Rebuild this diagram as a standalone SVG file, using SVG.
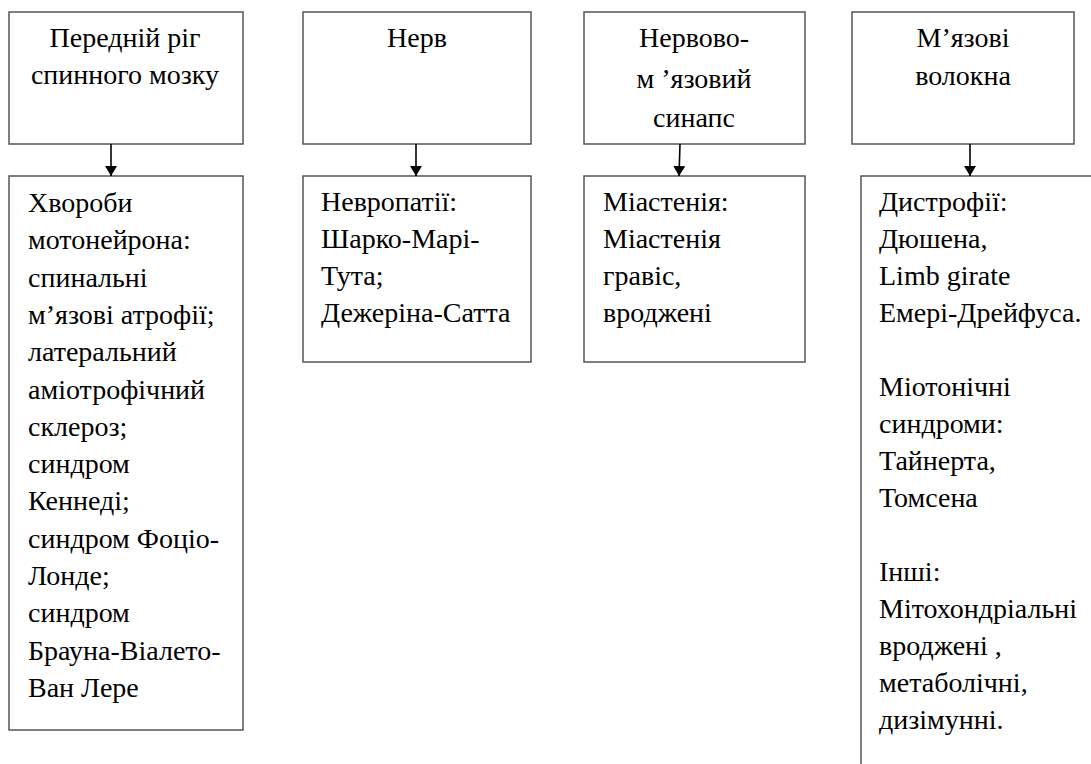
<svg xmlns="http://www.w3.org/2000/svg" width="1091" height="764" viewBox="0 0 1091 764">
<style>
.box{fill:#fff;stroke:#555;stroke-width:1.5}
.t{font-family:"Liberation Serif","DejaVu Serif",serif;font-size:28px;fill:#000}
.c{text-anchor:middle}
.conn{stroke:#000;stroke-width:1.6;fill:none}
</style>
<defs>
<marker id="ah" viewBox="0 0 10 12" refX="10" refY="6" markerWidth="10" markerHeight="12" markerUnits="userSpaceOnUse" orient="auto">
<path d="M0,0 L10,6 L0,12 Z" fill="#000"/>
</marker>
</defs>
<rect width="1091" height="764" fill="#fff"/>
<g id="n1">
<rect class="box" x="9" y="12" width="234" height="132"/>
<text class="t c" x="125" y="47">Передній ріг</text>
<text class="t c" x="125" y="84">спинного мозку</text>
</g>
<g id="n2">
<rect class="box" x="303" y="12" width="228" height="132"/>
<text class="t c" x="417" y="47">Нерв</text>
</g>
<g id="n3">
<rect class="box" x="584" y="12" width="221" height="132"/>
<text class="t c" x="694" y="47">Нервово-</text>
<text class="t c" x="694" y="88">м ’язовий</text>
<text class="t c" x="694" y="127">синапс</text>
</g>
<g id="n4">
<rect class="box" x="852" y="12" width="222" height="132"/>
<text class="t c" x="963" y="47">М’язові</text>
<text class="t c" x="963" y="85">волокна</text>
</g>
<g id="b1">
<rect class="box" x="9" y="176" width="234" height="554"/>
<text class="t" x="28" y="212">Хвороби</text>
<text class="t" x="28" y="249.3">мотонейрона:</text>
<text class="t" x="28" y="286.6">спинальні</text>
<text class="t" x="28" y="323.9">м’язові атрофії;</text>
<text class="t" x="28" y="361.2">латеральний</text>
<text class="t" x="28" y="398.5">аміотрофічний</text>
<text class="t" x="28" y="435.8">склероз;</text>
<text class="t" x="28" y="473.1">синдром</text>
<text class="t" x="28" y="510.4">Кеннеді;</text>
<text class="t" x="28" y="547.7">синдром Фоціо-</text>
<text class="t" x="28" y="585">Лонде;</text>
<text class="t" x="28" y="622.3">синдром</text>
<text class="t" x="28" y="659.6">Брауна-Віалето-</text>
<text class="t" x="28" y="696.9">Ван Лере</text>
</g>
<g id="b2">
<rect class="box" x="303" y="176" width="228" height="186"/>
<text class="t" x="321" y="211">Невропатії:</text>
<text class="t" x="321" y="248">Шарко-Марі-</text>
<text class="t" x="321" y="285">Тута;</text>
<text class="t" x="321" y="322">Дежеріна-Сатта</text>
</g>
<g id="b3">
<rect class="box" x="584" y="176" width="221" height="186"/>
<text class="t" x="603" y="211">Міастенія:</text>
<text class="t" x="603" y="248">Міастенія</text>
<text class="t" x="603" y="285">гравіс,</text>
<text class="t" x="603" y="322">вроджені</text>
</g>
<g id="b4">
<rect class="box" x="861" y="176" width="240" height="600"/>
<text class="t" x="879" y="211">Дистрофії:</text>
<text class="t" x="879" y="248">Дюшена,</text>
<text class="t" x="879" y="285">Limb girate</text>
<text class="t" x="879" y="322">Емері-Дрейфуса.</text>
<text class="t" x="879" y="396">Міотонічні</text>
<text class="t" x="879" y="433">синдроми:</text>
<text class="t" x="879" y="470">Тайнерта,</text>
<text class="t" x="879" y="507">Томсена</text>
<text class="t" x="879" y="581">Інші:</text>
<text class="t" x="879" y="618">Мітохондріальні</text>
<text class="t" x="879" y="655">вроджені ,</text>
<text class="t" x="879" y="692">метаболічні,</text>
<text class="t" x="879" y="729">дизімунні.</text>
</g>
<g id="connectors">
<line class="conn" x1="111" y1="144" x2="111" y2="176" marker-end="url(#ah)"/>
<line class="conn" x1="416" y1="144" x2="416" y2="176" marker-end="url(#ah)"/>
<line class="conn" x1="680" y1="144" x2="679" y2="176" marker-end="url(#ah)"/>
<line class="conn" x1="970" y1="144" x2="970" y2="176" marker-end="url(#ah)"/>
</g>
</svg>
